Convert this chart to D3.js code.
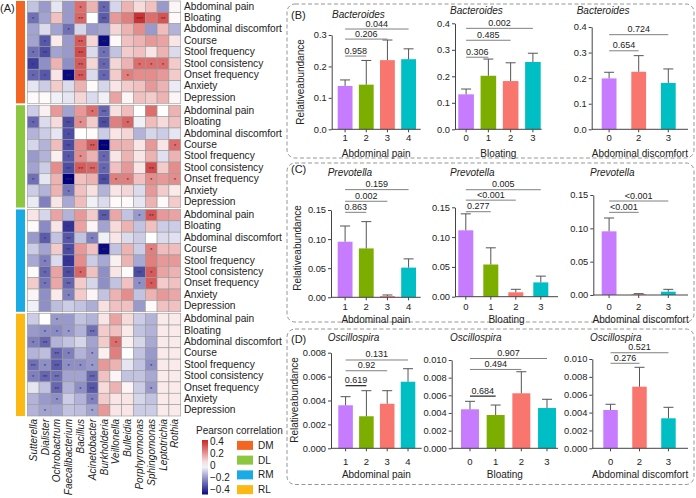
<!DOCTYPE html>
<html><head><meta charset="utf-8">
<script src="https://cdn.jsdelivr.net/npm/d3@7"></script>
<style>body{margin:0;background:#fff;} text{font-family:"Liberation Sans",Arial,Helvetica,sans-serif;fill:#222;}</style>
</head><body><svg id="c" width="696" height="498" xmlns="http://www.w3.org/2000/svg"></svg>
<script>
// ---------------- DATA ----------------
const genera = ["Sutterella","Dialister","Ochrobactrum","Faecalibacterium","Bacillus","Acinetobacter","Burkholderia","Veillonella","Bulleidia","Porphyromonas","Sphingomonas","Leptotrichia","Rothia"];
const symptoms = ["Abdominal pain","Bloating","Abdominal discomfort","Course","Stool frequency","Stool consistency","Onset frequency","Anxiety","Depression"];
const groups = ["DM","DL","RM","RL"];

const dmVals = [
[-0.12,-0.2,-0.05,-0.2,0.28,0.15,-0.3,-0.08,0.15,0.07,0.12,-0.2,0.02],
[-0.28,-0.18,0.12,-0.2,0.3,0.0,-0.32,0.2,0.25,0.4,0.28,0.33,0.01],
[-0.18,-0.07,-0.18,-0.28,-0.08,-0.2,-0.18,0.08,0.15,0.22,-0.2,0.13,-0.15],
[-0.18,-0.33,0.04,-0.2,0.32,0.08,-0.48,0.01,0.12,0.15,0.2,0.18,0.05],
[-0.28,-0.35,-0.18,-0.2,0.35,-0.07,-0.28,-0.12,0.1,0.12,0.05,0.15,-0.07],
[-0.38,-0.22,0.15,-0.22,0.32,0.08,-0.3,0.08,0.15,0.28,0.28,0.28,0.1],
[-0.3,-0.33,0.05,-0.48,0.32,-0.07,-0.3,0.1,0.25,0.22,0.22,0.2,0.1],
[-0.05,-0.1,0.1,-0.07,0.15,0.01,-0.08,0.05,0.1,0.12,0.2,0.15,-0.04],
[0.01,0.01,-0.03,-0.05,0.08,-0.07,-0.03,0.18,0.02,0.12,0.1,0.15,0.02]];
const dlVals = [
[-0.1,0.03,0.2,-0.18,0.2,0.28,-0.3,0.06,0.13,0.0,0.28,0.0,0.15],
[-0.3,-0.07,0.07,-0.35,0.22,0.1,-0.35,0.25,0.3,-0.03,0.13,0.07,0.12],
[-0.15,-0.1,-0.05,-0.35,0.0,0.01,-0.1,0.05,0.08,-0.15,-0.08,-0.1,-0.05],
[-0.08,-0.15,0.13,-0.35,0.22,0.32,-0.5,0.15,0.15,0.05,0.2,0.05,0.28],
[-0.2,-0.15,0.03,-0.33,0.22,0.15,-0.3,0.05,0.15,0.05,0.15,-0.06,0.15],
[-0.18,-0.1,0.22,-0.35,0.32,0.3,-0.3,0.12,0.2,0.05,0.35,0.1,0.22],
[-0.28,-0.05,0.15,-0.5,0.12,0.15,-0.35,0.25,0.25,0.12,0.22,0.2,0.22],
[-0.1,-0.15,0.15,-0.27,0.12,0.06,-0.15,0.05,0.08,-0.07,0.2,0.1,0.04],
[-0.04,-0.25,0.05,-0.17,0.13,-0.03,-0.07,0.01,0.01,-0.05,0.15,0.01,0.1]];
const rmVals = [
[0.05,-0.08,0.18,-0.15,0.2,0.1,-0.32,0.17,-0.12,-0.2,0.33,0.2,0.18],
[0.01,-0.23,0.05,-0.4,0.18,0.02,-0.18,0.07,0.15,-0.12,0.12,-0.1,-0.1],
[-0.2,-0.32,-0.12,-0.33,-0.12,-0.25,-0.03,0.05,-0.07,-0.1,0.0,-0.07,-0.06],
[-0.1,-0.18,0.1,-0.35,0.2,0.12,-0.48,-0.12,0.15,-0.1,0.25,0.13,0.13],
[-0.17,-0.25,-0.07,-0.4,0.22,-0.1,-0.17,0.03,0.15,-0.17,0.25,0.2,0.2],
[0.01,-0.3,0.18,-0.35,0.3,0.12,-0.22,0.05,0.01,-0.35,0.32,0.18,0.15],
[0.1,-0.27,0.17,-0.3,0.1,-0.08,-0.22,-0.12,0.12,-0.22,0.32,0.1,0.12],
[0.02,-0.22,0.04,-0.25,0.1,0.02,-0.12,0.15,0.22,-0.12,0.15,0.2,0.17],
[-0.03,-0.22,-0.13,-0.1,-0.12,-0.16,0.06,0.12,0.12,-0.2,0.01,0.12,0.12]];
const rlVals = [
[-0.1,0.0,-0.2,-0.2,-0.12,-0.15,0.05,0.18,0.07,-0.1,-0.15,0.04,0.04],
[-0.2,-0.22,-0.23,-0.2,-0.15,-0.28,0.1,0.12,0.04,-0.12,-0.15,0.04,0.04],
[-0.25,-0.3,-0.15,-0.12,-0.08,-0.18,0.1,0.28,0.03,-0.08,-0.17,0.04,0.04],
[-0.15,-0.13,-0.3,-0.25,-0.15,-0.2,0.03,0.25,0.0,-0.12,-0.2,0.04,0.04],
[-0.28,-0.22,-0.32,-0.22,-0.22,-0.2,0.2,0.15,-0.05,-0.12,-0.22,0.04,0.04],
[-0.25,-0.3,-0.28,-0.18,-0.18,-0.3,0.12,0.02,-0.12,-0.12,-0.17,0.04,0.04],
[-0.05,-0.12,-0.3,-0.15,-0.22,-0.33,0.07,0.15,0.02,-0.1,-0.2,0.04,0.04],
[-0.15,-0.2,-0.22,-0.1,-0.15,-0.25,0.1,0.05,0.05,-0.08,-0.12,0.04,0.04],
[-0.15,-0.18,-0.18,-0.12,-0.13,-0.18,0.2,0.05,0.05,-0.1,-0.1,0.04,0.04]];
// number of significance stars per cell
const dmStars = ["0000101000000","1000202003020","0001000000000","0100202000000","1200201000000","1000201001110","1102201010000","0000000000000","0000000000000"];
const dlStars = ["0000012000000","1002102010000","0001000000000","0002023000001","0001101000000","0002221000200","1003002110101","0001000000000","0000000000000"];
const rmStars = ["0000002001200","0002000000000","0102010000000","0002002000100","0102000000000","0102100002100","0102000001100","0001000000000","0000000000000"];
const rlStars = ["0010000000000","0111020000000","1200000100000","0021010000000","2121110000100","1220020000000","0020120000100","0010010000000","0100010000000"];
const legendTicks = [0.4,0.2,0,-0.2,-0.4];

// bar charts
const painCats = ["1","2","3","4"];
const bloatCats = ["0","1","2","3"];
const discCats = ["0","2","3"];
const bactPainMean = [0.138,0.142,0.220,0.223],   bactPainUpper = [0.157,0.219,0.284,0.256];
const bactBloatMean = [0.132,0.202,0.182,0.254],  bactBloatUpper = [0.152,0.265,0.251,0.287];
const bactDiscMean = [0.199,0.225,0.181],         bactDiscUpper = [0.223,0.288,0.236];
const prevPainMean = [0.0955,0.084,0.002,0.051],  prevPainUpper = [0.1225,0.130,0.004,0.066];
const prevBloatMean = [0.1114,0.054,0.0074,0.024],prevBloatUpper = [0.139,0.082,0.0124,0.0345];
const prevDiscMean = [0.0955,0.001,0.005],        prevDiscUpper = [0.1155,0.002,0.0085];
const oscPainMean = [0.0036,0.00268,0.00373,0.00557], oscPainUpper = [0.00432,0.00482,0.00482,0.00666];
const oscBloatMean = [0.00442,0.00377,0.00623,0.00456], oscBloatUpper = [0.00532,0.0049,0.00867,0.00555];
const oscDiscMean = [0.00429,0.0069,0.00336],     oscDiscUpper = [0.00493,0.00907,0.00459];
const bactPainP = ["0.958","0.206","0.044"], bactBloatP = ["0.306","0.485","0.002"], bactDiscP = ["0.654","0.724"];
const prevPainP = ["0.863","0.002","0.159"], prevBloatP = ["0.277","<0.001","0.005"], prevDiscP = ["<0.001","<0.001"];
const oscPainP = ["0.619","0.92","0.131"], oscBloatP = ["0.684","0.494","0.907"], oscDiscP = ["0.276","0.521"];

// ---------------- STYLE / LAYOUT ----------------
const svg = d3.select("#c");
const groupColors = ["#F26522","#8DC63F","#1AAAE4","#FDB913"];
const barColors = ["#C77CFF","#7CAE00","#F8766D","#00BFC4"];
const heat = d3.scaleLinear().domain([-0.5,0,0.42]).range(["#000080","#ffffff","#CD2626"]).clamp(true);

// ---------------- HEATMAP ----------------
const hx = d3.scaleBand().domain(genera).range([27.3,180.7]);
const gy = d3.scaleBand().domain(groups).range([1,416]).paddingInner(0.018);
const ry = d3.scaleBand().domain(symptoms).range([0, gy.bandwidth()]);
const allVals = [dmVals, dlVals, rmVals, rlVals];
const allStars = [dmStars, dlStars, rmStars, rlStars];

svg.append("text").attr("x",0).attr("y",8).attr("dominant-baseline","central").style("font-size","11px").text("(A)");

groups.forEach((g, gi) => {
  const gg = svg.append("g").attr("transform", `translate(0,${gy(g)})`);
  svg.append("rect").attr("x",16).attr("y",gy(g)).attr("width",9).attr("height",gy.bandwidth()).attr("fill",groupColors[gi]);
  const cells = [];
  allVals[gi].forEach((row, r) => row.forEach((v, c) => cells.push({r, c, v, s: +allStars[gi][r][c]})));
  gg.selectAll("rect.cell").data(cells).join("rect").attr("class","cell")
    .attr("x", d => hx(genera[d.c])).attr("y", d => ry(symptoms[d.r]))
    .attr("width", hx.bandwidth()).attr("height", ry.bandwidth())
    .attr("fill", d => heat(d.v)).attr("stroke","#9a9a9a").attr("stroke-width",0.6);
  gg.selectAll("text.star").data(cells.filter(d => d.s > 0)).join("text").attr("class","star")
    .attr("x", d => hx(genera[d.c]) + hx.bandwidth()/2).attr("y", d => ry(symptoms[d.r]) + ry.bandwidth()/2 + 3)
    .attr("text-anchor","middle").style("font-size","6px").style("fill","#333")
    .text(d => "*".repeat(d.s));
  gg.selectAll("text.rl").data(symptoms).join("text").attr("class","rl")
    .attr("x",184).attr("y", d => ry(d) + ry.bandwidth()/2 - 0.5).attr("dominant-baseline","central")
    .style("font-size","10.2px").text(d => d);
});

svg.selectAll("text.cl").data(genera).join("text").attr("class","cl")
  .attr("transform", d => `translate(${hx(d)+hx.bandwidth()/2},419) rotate(-90)`)
  .attr("text-anchor","end").attr("dominant-baseline","central")
  .style("font-size","10px").style("font-style","italic").text(d => d);

// colour legend
svg.append("text").attr("x",196).attr("y",430).attr("dominant-baseline","central").style("font-size","10px").text("Pearson correlation");
const ly = d3.scaleLinear().domain([0.4,-0.4]).range([441.7,489.5]);
const defs = svg.append("defs");
const grad = defs.append("linearGradient").attr("id","hg").attr("x1",0).attr("x2",0).attr("y1",0).attr("y2",1);
const lTop = ly.invert(440), lBot = ly.invert(494.5);
d3.range(0,1.0001,0.1).forEach(t => grad.append("stop").attr("offset",t).attr("stop-color", heat(lTop + (lBot-lTop)*t)));
svg.append("rect").attr("x",202).attr("y",440).attr("width",6).attr("height",54.5).attr("fill","url(#hg)");
svg.selectAll("text.lt").data(legendTicks).join("text").attr("class","lt")
  .attr("x",210).attr("y", d => ly(d)).attr("dominant-baseline","central").style("font-size","10px")
  .text(d => d3.format(".1~f")(d).replace("-","\u2212"));
const gl = d3.scaleBand().domain(groups).range([438,497]);
groups.forEach((g, gi) => {
  const cy = gl(g) + gl.bandwidth()/2;
  svg.append("rect").attr("x",237).attr("y",cy-4.5).attr("width",16).attr("height",9).attr("fill",groupColors[gi]);
  svg.append("text").attr("x",258).attr("y",cy).attr("dominant-baseline","central").style("font-size","10px").text(g);
});

// ---------------- BAR PANELS ----------------
[[287,4,158],[287,163,322],[287,329,484.5]].forEach(([x0,y0,y1]) => {
  svg.append("rect").attr("x",x0).attr("y",y0).attr("width",694-x0).attr("height",y1-y0).attr("rx",8)
    .attr("fill","none").attr("stroke","#8a8a8a").attr("stroke-width",0.9).attr("stroke-dasharray","4,2.5");
});
[["(B)",15],["(C)",168.5],["(D)",338.5]].forEach(([t,y]) =>
  svg.append("text").attr("x",291).attr("y",y).attr("dominant-baseline","central").style("font-size","11px").text(t));
[[300,82],[297.3,248],[294,400]].forEach(([x,y]) =>
  svg.append("text").attr("transform",`translate(${x},${y}) rotate(-90)`).attr("text-anchor","middle")
    .attr("dominant-baseline","central").style("font-size","10px").text("Relativeabundance"));

const subplots = [
 {genus:"Bacteroides", cats:painCats, mean:bactPainMean, up:bactPainUpper, p:bactPainP, xlab:"Abdominal pain", col:[0,1,2,3]},
 {genus:"Bacteroides", cats:bloatCats, mean:bactBloatMean, up:bactBloatUpper, p:bactBloatP, xlab:"Bloating", col:[0,1,2,3]},
 {genus:"Bacteroides", cats:discCats, mean:bactDiscMean, up:bactDiscUpper, p:bactDiscP, xlab:"Abdominal discomfort", col:[0,2,3]},
 {genus:"Prevotella", cats:painCats, mean:prevPainMean, up:prevPainUpper, p:prevPainP, xlab:"Abdominal pain", col:[0,1,2,3]},
 {genus:"Prevotella", cats:bloatCats, mean:prevBloatMean, up:prevBloatUpper, p:prevBloatP, xlab:"Bloating", col:[0,1,2,3]},
 {genus:"Prevotella", cats:discCats, mean:prevDiscMean, up:prevDiscUpper, p:prevDiscP, xlab:"Abdominal discomfort", col:[0,2,3]},
 {genus:"Oscillospira", cats:painCats, mean:oscPainMean, up:oscPainUpper, p:oscPainP, xlab:"Abdominal pain", col:[0,1,2,3]},
 {genus:"Oscillospira", cats:bloatCats, mean:oscBloatMean, up:oscBloatUpper, p:oscBloatP, xlab:"Bloating", col:[0,1,2,3]},
 {genus:"Oscillospira", cats:discCats, mean:oscDiscMean, up:oscDiscUpper, p:oscDiscP, xlab:"Abdominal discomfort", col:[0,2,3]}
];
// layout: axis x range, bar range, padding, baseline px, top px, y max, tick step, format, title pos, label rows, significance heights
const layout = [
 {ax:[331.7,420.7], bx:[337.7,416], pad:0.3, base:129.3, top:35, ymax:0.3, step:0.1, fmt:".1f", tx:332, ty:14, xl:137.5, xt:153, sig:[0.233,0.287,0.319], dark:[]},
 {ax:[455,541.7], bx:[458.3,540.7], pad:0.3, base:129.3, top:23.3, ymax:0.4, step:0.1, fmt:".1f", tx:450, ty:10.5, xl:137.5, xt:153, sig:[0.272,0.336,0.381], dark:[]},
 {ax:[591.7,688], bx:[601.7,675.7], pad:0.5, base:129.3, top:27, ymax:0.4, step:0.1, fmt:".1f", tx:576.7, ty:10.5, xl:137.5, xt:153, sig:[0.307,0.370], dark:[]},
 {ax:[331,420.7], bx:[337.7,416], pad:0.3, base:297.3, top:210, ymax:0.15, step:0.05, fmt:".2f", tx:327.7, ty:172, xl:306.7, xt:319, sig:[0.146,0.165,0.185], dark:[]},
 {ax:[455,558], bx:[458.3,548.3], pad:0.4, base:296.7, top:207.3, ymax:0.15, step:0.05, fmt:".2f", tx:450, ty:172, xl:306.7, xt:319, sig:[0.1426,0.162,0.1795], dark:[]},
 {ax:[593.3,688], bx:[601.7,675.7], pad:0.5, base:295, top:195, ymax:0.15, step:0.05, fmt:".2f", tx:590, ty:172, xl:306.7, xt:319, sig:[0.124,0.141], dark:[]},
 {ax:[331,421.7], bx:[338.3,415.3], pad:0.3, base:448.3, top:352.7, ymax:0.008, step:0.002, fmt:".3f", tx:327.7, ty:337, xl:461.7, xt:474, sig:[0.00524,0.00649,0.00739], dark:[0]},
 {ax:[451.7,558], bx:[461,556], pad:0.3, base:448.3, top:360, ymax:0.010, step:0.002, fmt:".3f", tx:450, ty:337, xl:461.7, xt:474, sig:[0.00591,0.00893,0.01017], dark:[0]},
 {ax:[592.3,688], bx:[603.3,675.7], pad:0.5, base:448.3, top:359, ymax:0.010, step:0.002, fmt:".3f", tx:590, ty:337, xl:461.7, xt:474, sig:[0.00952,0.0107], dark:[]}
];

subplots.forEach((sp, i) => {
  const L = layout[i];
  const g = svg.append("g");
  const x = d3.scaleBand().domain(sp.cats).range(L.bx).paddingInner(L.pad).paddingOuter(0);
  const y = d3.scaleLinear().domain([0, L.ymax]).range([L.base, L.top]);
  const bw = x.bandwidth();
  const rows = sp.cats.map((c, k) => ({c, m: sp.mean[k], u: sp.up[k], col: barColors[sp.col[k]]}));
  // bars
  g.selectAll("rect.bar").data(rows).join("rect").attr("class","bar")
    .attr("x", d => x(d.c)).attr("width", bw)
    .attr("y", d => y(d.m)).attr("height", d => L.base - y(d.m)).attr("fill", d => d.col);
  // error bars
  g.selectAll("line.ev").data(rows).join("line").attr("class","ev")
    .attr("x1", d => x(d.c)+bw/2).attr("x2", d => x(d.c)+bw/2)
    .attr("y1", d => y(d.m)).attr("y2", d => y(d.u)).attr("stroke","#555").attr("stroke-width",1);
  g.selectAll("line.ec").data(rows).join("line").attr("class","ec")
    .attr("x1", d => x(d.c)+bw/2-5).attr("x2", d => x(d.c)+bw/2+5)
    .attr("y1", d => y(d.u)).attr("y2", d => y(d.u)).attr("stroke","#555").attr("stroke-width",1);
  // y axis
  const ticks = d3.range(0, L.ymax + L.step/2, L.step);
  const ya = g.append("g").attr("transform",`translate(${L.ax[0]},0)`)
    .call(d3.axisLeft(y).tickValues(ticks).tickFormat(d3.format(L.fmt)).tickSize(3).tickPadding(2).tickSizeOuter(0));
  ya.selectAll("text").style("font-size","9.3px").style("fill","#222").style("font-family","Liberation Sans, Arial, sans-serif");
  ya.selectAll("path,line").attr("stroke","#444");
  // x axis
  g.append("line").attr("x1",L.ax[0]).attr("x2",L.ax[1]).attr("y1",L.base).attr("y2",L.base).attr("stroke","#444");
  g.selectAll("line.xt").data(sp.cats).join("line").attr("class","xt")
    .attr("x1", d => x(d)+bw/2).attr("x2", d => x(d)+bw/2).attr("y1",L.base).attr("y2",L.base+3).attr("stroke","#444");
  g.selectAll("text.xl").data(sp.cats).join("text").attr("class","xl")
    .attr("x", d => x(d)+bw/2).attr("y", L.xl).attr("text-anchor","middle").attr("dominant-baseline","central")
    .style("font-size","9.5px").text(d => d);
  g.append("text").attr("x",(L.ax[0]+L.ax[1])/2).attr("y",L.xt).attr("text-anchor","middle").attr("dominant-baseline","central")
    .style("font-size","10px").text(sp.xlab);
  // title
  g.append("text").attr("x",L.tx).attr("y",L.ty).attr("dominant-baseline","central")
    .style("font-size","10px").style("font-style","italic").text(sp.genus);
  // significance brackets (first category vs each other)
  sp.p.forEach((lab, k) => {
    const xa = x(sp.cats[0]) + bw/2, xb = x(sp.cats[k+1]) + bw/2, yy = y(L.sig[k]);
    const dark = L.dark.includes(k);
    g.append("line").attr("x1",xa).attr("x2",xb).attr("y1",yy).attr("y2",yy)
      .attr("stroke", dark ? "#222" : "#808080").attr("stroke-width", dark ? 1.2 : 1);
    g.append("text").attr("x",(xa+xb)/2).attr("y",yy-2.5).attr("text-anchor","middle")
      .style("font-size","9px").text(lab);
  });
});
</script></body></html>
